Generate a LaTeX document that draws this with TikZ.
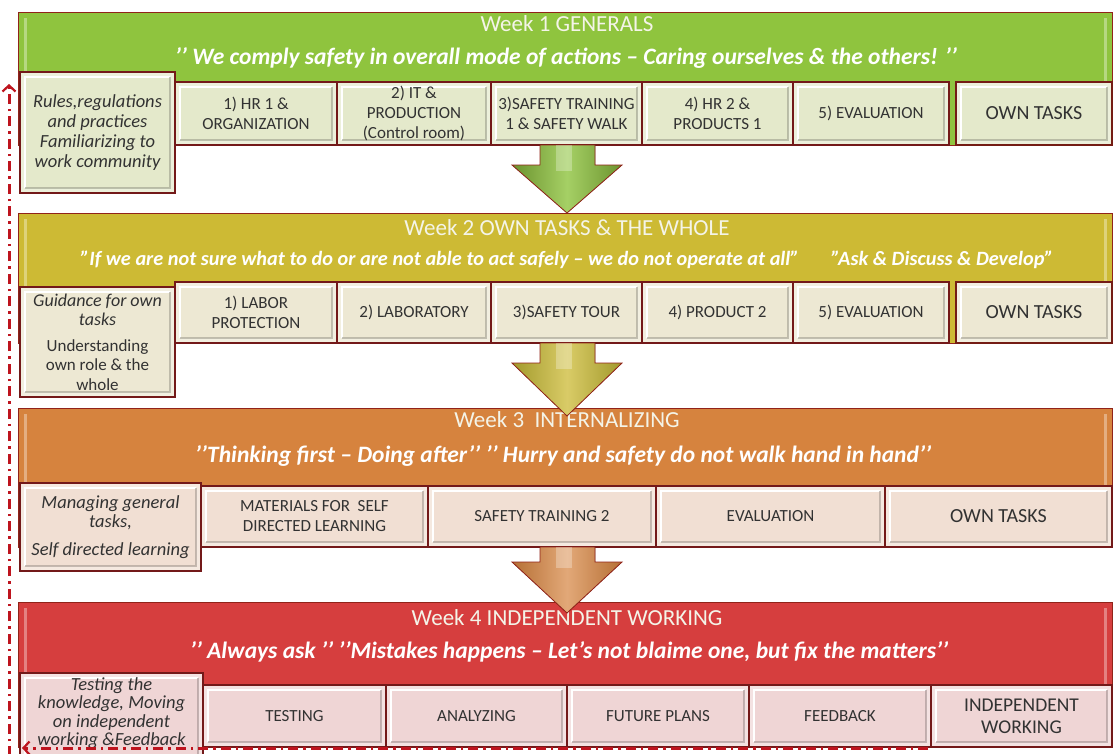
\documentclass[tikz,border=0pt]{standalone}
\usepackage{fontspec}
\setmainfont{Carlito}
\usetikzlibrary{arrows.meta}

% palette
\definecolor{rim}{RGB}{145,35,25}
\definecolor{boxline}{RGB}{115,25,25}
\definecolor{boxtext}{RGB}{50,50,50}
\definecolor{headtext}{RGB}{244,244,232}
\definecolor{loopred}{RGB}{190,20,30}
\definecolor{bandA}{RGB}{143,196,62}
\definecolor{bandB}{RGB}{205,186,52}
\definecolor{bandC}{RGB}{214,131,62}
\definecolor{bandD}{RGB}{214,62,62}
\definecolor{cellA}{RGB}{228,233,203}
\definecolor{cellB}{RGB}{237,232,211}
\definecolor{cellC}{RGB}{241,223,211}
\definecolor{cellD}{RGB}{239,213,213}

\colorlet{cellc}{cellA}

\tikzset{
  x=1pt, y=-1pt,
  band/.style={draw=rim, line width=1pt, fill=#1, inner sep=0pt,
    path picture={
      \draw[white, opacity=.35, line width=3pt]
        ([shift={(7pt,6pt)}]path picture bounding box.south west) --
        ([shift={(7pt,-6pt)}]path picture bounding box.north west);
      \draw[white, opacity=.35, line width=3pt]
        ([shift={(-7pt,6pt)}]path picture bounding box.south east) --
        ([shift={(-7pt,-6pt)}]path picture bounding box.north east);
    }},
  headline/.style={text=headtext, font=\fontsize{23}{26}\selectfont, inner sep=0pt},
  motto/.style={text=white, font=\fontsize{23.5}{26}\selectfont\bfseries\itshape, inner sep=0pt},
  cell/.style={draw=boxline, line width=1.2pt, fill=cellc!70!white, inner sep=0pt,
    align=center, text=boxtext, font=\fontsize{17}{20}\selectfont,
    path picture={
      \fill[cellc]
        ([shift={(5pt,5pt)}]path picture bounding box.south west) rectangle
        ([shift={(-5pt,-5pt)}]path picture bounding box.north east);
      \draw[white, line width=1.2pt]
        ([shift={(5pt,5pt)}]path picture bounding box.south west) |-
        ([shift={(-5pt,-5pt)}]path picture bounding box.north east);
      \draw[cellc!65!black, opacity=.55, line width=1.2pt]
        ([shift={(5pt,5pt)}]path picture bounding box.south west) -|
        ([shift={(-5pt,-5pt)}]path picture bounding box.north east);
    }},
  sidenote/.style={font=\fontsize{18.5}{19.8}\selectfont\itshape},
  bigcell/.style={font=\fontsize{20}{23}\selectfont},
  ownbox/.style={line width=2pt, draw=rim!80!black},
  looppath/.style={draw=loopred, line width=3pt,
    dash pattern=on 10pt off 5pt on 2.5pt off 5pt},
  looptip/.style={-{Straight Barb[length=6pt,width=13pt,line width=2.2pt]}},
}

% a bevelled tile given by its corners
\newcommand{\cell}[7][]{%
  \node[cell, minimum width={#5-#3}, minimum height={#6-#4}, #1]
    (#2) at ({(#3+#5)/2},{(#4+#6)/2}) {#7};}

% a block arrow pointing down: shaft top, head base, tip
\newcommand{\weekarrow}[4]{%
  \filldraw[draw=rim, line width=.8pt, #4]
    (540,#1) -- (595,#1) -- (595,#2) -- (622,#2) -- (567,#3) --
    (512,#2) -- (540,#2) -- cycle;
  \fill[white, opacity=.28] (556,#1) rectangle (572,{#2+6});}

\begin{document}
\begin{tikzpicture}
\useasboundingbox[fill=white] (0,0) rectangle (1114,753);

% ---------------- Week 1 ----------------
\node[band=bandA, minimum width=1094, minimum height=133] (week1) at (565,78.5) {};
\node[headline] (w1title) at (567,24) {Week 1 GENERALS};
\node[motto] (w1motto) at (566,58) {’’ We comply safety in overall mode of actions – Caring ourselves \& the others! ’’};
\colorlet{cellc}{cellA}
\cell{w1a}{175}{82}{337}{145}{1) HR 1 \&\\ORGANIZATION}
\cell{w1b}{337}{82}{491}{145}{2) IT \&\\PRODUCTION\\(Control room)}
\cell{w1c}{491}{82}{642}{145}{3)SAFETY TRAINING\\1 \& SAFETY WALK}
\cell{w1d}{642}{82}{793}{145}{4) HR 2 \&\\PRODUCTS 1}
\cell{w1e}{793}{82}{949}{145}{5) EVALUATION}
\cell[bigcell,ownbox]{w1f}{956}{82}{1112}{145}{OWN TASKS}
\cell[sidenote]{w1note}{20}{72}{175}{193}{Rules,regulations\\and practices\\Familiarizing to\\work community}

% ---------------- Week 2 ----------------
\node[band=bandB, minimum width=1094, minimum height=130] (week2) at (565,278) {};
\node[headline] (w2title) at (567,228) {Week 2 OWN TASKS \& THE WHOLE};
\node[motto, font=\fontsize{20.3}{23}\selectfont\bfseries\itshape] (w2motto) at (567,260)
  {"If we are not sure what to do or are not able to act safely – we do not operate at all"\hspace{32pt}"Ask \& Discuss \& Develop"};
\colorlet{cellc}{cellB}
\cell{w2a}{175}{282}{337}{343}{1) LABOR\\PROTECTION}
\cell{w2b}{337}{282}{491}{343}{2) LABORATORY}
\cell{w2c}{491}{282}{642}{343}{3)SAFETY TOUR}
\cell{w2d}{642}{282}{793}{343}{4) PRODUCT 2}
\cell{w2e}{793}{282}{949}{343}{5) EVALUATION}
\cell[bigcell,ownbox]{w2f}{956}{282}{1112}{343}{OWN TASKS}
\cell[font=\fontsize{17}{19.5}\selectfont]{w2note}{20}{287}{175}{397}
  {{\fontsize{18}{19.5}\selectfont\itshape Guidance for own}\\{\fontsize{18}{19.5}\selectfont\itshape tasks}\\[6pt]Understanding\\own role \& the\\whole}

% ---------------- Week 3 ----------------
\node[band=bandC, minimum width=1094, minimum height=139] (week3) at (565,477.5) {};
\node[headline] (w3title) at (567,420) {Week 3\ \ INTERNALIZING};
\node[motto] (w3motto) at (563,456) {’’Thinking first – Doing after’’ ’’ Hurry and safety do not walk hand in hand’’};
\colorlet{cellc}{cellC}
\cell{w3a}{201}{486}{428}{547}{MATERIALS FOR\ \ SELF\\DIRECTED LEARNING}
\cell{w3b}{428}{486}{656}{547}{SAFETY TRAINING 2}
\cell{w3c}{656}{486}{885}{547}{EVALUATION}
\cell[bigcell]{w3d}{885}{486}{1112}{547}{OWN TASKS}
\cell[sidenote]{w3note}{20}{483}{201}{571}{Managing general\\tasks,\\[8pt]Self directed learning}

% ---------------- Week 4 ----------------
\node[band=bandD, minimum width=1094, minimum height=145] (week4) at (565,674.5) {};
\node[headline] (w4title) at (567,618) {Week 4 INDEPENDENT WORKING};
\node[motto] (w4motto) at (569,652) {’’ Always ask ’’ ’’Mistakes happens – Let’s not blaime one, but fix the matters’’};
\colorlet{cellc}{cellD}
\cell{w4a}{203}{685}{386}{747}{TESTING}
\cell{w4b}{386}{685}{567}{747}{ANALYZING}
\cell{w4c}{567}{685}{749}{747}{FUTURE PLANS}
\cell{w4d}{749}{685}{931}{747}{FEEDBACK}
\cell[font=\fontsize{19.5}{22}\selectfont]{w4e}{931}{685}{1112}{747}{INDEPENDENT\\WORKING}
\cell[sidenote]{w4note}{20}{673}{203}{767}{}
\node[font=\fontsize{18.5}{18.6}\selectfont\itshape, text=boxtext, align=center, anchor=north, inner sep=0pt]
  (w4notetext) at (111.5,677)
  {Testing the\\knowledge, Moving\\on independent\\working \&Feedback};

% ---------------- block arrows between the weeks ----------------
\weekarrow{145}{165}{213}{left color=bandA!75!black, right color=bandA!75!black, middle color=bandA!80!white}
\weekarrow{343}{363}{416}{left color=bandB!80!black!90!bandA, right color=bandB!80!black!90!bandA, middle color=bandB!75!white}
\weekarrow{547}{562}{613}{left color=bandC!85!black, right color=bandC!85!black, middle color=bandC!70!white}

% ---------------- feedback loop back to the start ----------------
\coordinate (loopFrom) at (928,748);
\coordinate (loopTo) at (22,748);
\coordinate (upFrom) at (9,756);
\coordinate (upTo) at (9,84);
\draw[looppath, looptip] (loopFrom) -- (loopTo);
\draw[looppath, looptip] (upFrom) -- (upTo);
\end{tikzpicture}
\end{document}
